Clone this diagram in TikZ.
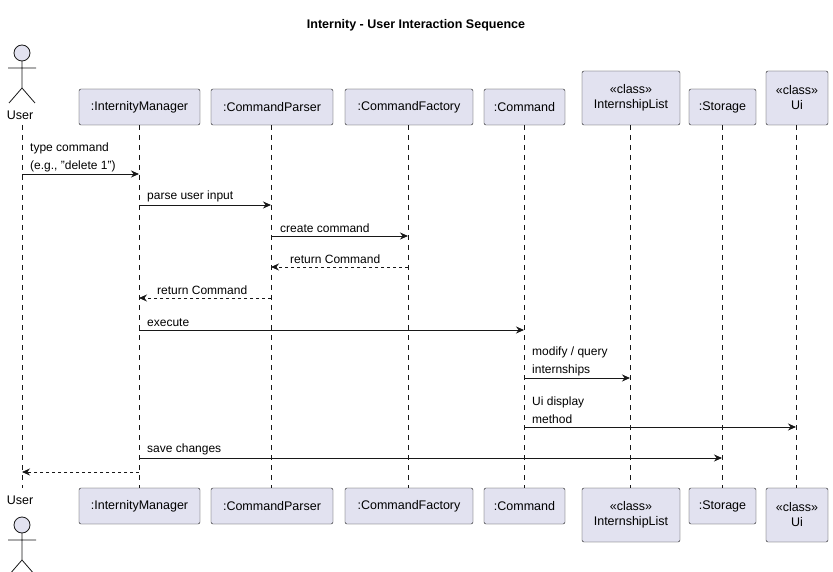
\documentclass[tikz,border=0pt]{standalone}
\usepackage{fontspec}
\setmainfont{Liberation Sans}
\usetikzlibrary{arrows.meta,positioning,calc}
\definecolor{partfill}{HTML}{E2E2F0}
\definecolor{partline}{HTML}{181818}
\begin{document}
\begin{tikzpicture}[x=1pt,y=-1pt,font=\fontsize{12.5}{15}\selectfont]

% Define styles
\tikzset{
  part/.style={draw=partline, fill=partfill, rounded corners=2pt, inner sep=0pt, minimum height=36pt, align=center},
  life/.style={partline, dashed, dash pattern=on 5pt off 5pt, line width=0.6pt},
  msg/.style={partline, line width=0.9pt, -{Stealth[length=8pt,width=7pt]}},
  reply/.style={msg, dashed, dash pattern=on 3pt off 3pt},
  lbl/.style={anchor=south west, inner sep=0pt, align=left, font=\fontsize{12}{18}\selectfont},
  actor/.style={draw=partline, fill=partfill, line width=0.8pt}
}
\useasboundingbox (0,0) rectangle (833,572);

\node (title) at (416,25) {\bfseries Internity - User Interaction Sequence};

% Lifelines
\foreach \n/\x in {user/22, mgr/139, parser/271, factory/408, cmd/524, list/630, store/722, ui/796}{
  \coordinate (top-\n) at (\x,125);
  \coordinate (bot-\n) at (\x,488);
  \draw [life] (top-\n) -- (bot-\n);
}

% Participants (top)
\node (mgrT) [part, minimum width=121pt] at (139.5,107) {:InternityManager};
\node (parserT) [part, minimum width=122pt] at (272,107) {:CommandParser};
\node (factoryT) [part, minimum width=128pt] at (409,107) {:CommandFactory};
\node (cmdT) [part, minimum width=81pt] at (524.5,107) {:Command};
\node (listT) [part, minimum width=98pt, minimum height=54pt] at (631,98) {«class»\\InternshipList};
\node (storeT) [part, minimum width=67pt] at (722.5,107) {:Storage};
\node (uiT) [part, minimum width=62pt, minimum height=54pt] at (797,98) {«class»\\Ui};

% Participants (bottom)
\node (mgrB) [part, minimum width=121pt] at (139.5,506) {:InternityManager};
\node (parserB) [part, minimum width=122pt] at (272,506) {:CommandParser};
\node (factoryB) [part, minimum width=128pt] at (409,506) {:CommandFactory};
\node (cmdB) [part, minimum width=81pt] at (524.5,506) {:Command};
\node (listB) [part, minimum width=98pt, minimum height=54pt] at (631,515) {«class»\\InternshipList};
\node (storeB) [part, minimum width=67pt] at (722.5,506) {:Storage};
\node (uiB) [part, minimum width=62pt, minimum height=54pt] at (797,515) {«class»\\Ui};

% Actor
\foreach \y/\ly in {53/115, 525/500}{
  \draw [actor] (22,\y) circle (8);
  \draw [actor] (22,\y+8) -- (22,\y+35) (8,\y+15) -- (36,\y+15)
    (22,\y+35) -- (9,\y+50) (22,\y+35) -- (35,\y+50);
  \node at (20,\ly) {User};
}

% Messages
\draw [msg] (top-user |- 0,174) -- (top-mgr |- 0,174);
\node [lbl] at (30,172) {type command\\(e.g., "delete 1")};
\draw [msg] (top-mgr |- 0,205) -- (top-parser |- 0,205);
\node [lbl] at (147,202) {parse user input};
\draw [msg] (top-parser |- 0,236) -- (top-factory |- 0,236);
\node [lbl] at (280,233) {create command};
\draw [reply] (top-factory |- 0,267) -- (top-parser |- 0,267);
\node [lbl] at (290,264) {return Command};
\draw [reply] (top-parser |- 0,298) -- (top-mgr |- 0,298);
\node [lbl] at (157,295) {return Command};
\draw [msg] (top-mgr |- 0,330) -- (top-cmd |- 0,330);
\node [lbl] at (147,327) {execute};
\draw [msg] (top-cmd |- 0,378) -- (top-list |- 0,378);
\node [lbl] at (532,376) {modify / query\\internships};
\draw [msg] (top-cmd |- 0,427) -- (top-ui |- 0,427);
\node [lbl] at (532,424) {Ui display\\method};
\draw [msg] (top-mgr |- 0,458) -- (top-store |- 0,458);
\node [lbl] at (147,455) {save changes};
\draw [reply] (top-mgr |- 0,472) -- (top-user |- 0,472);

\end{tikzpicture}
\end{document}
